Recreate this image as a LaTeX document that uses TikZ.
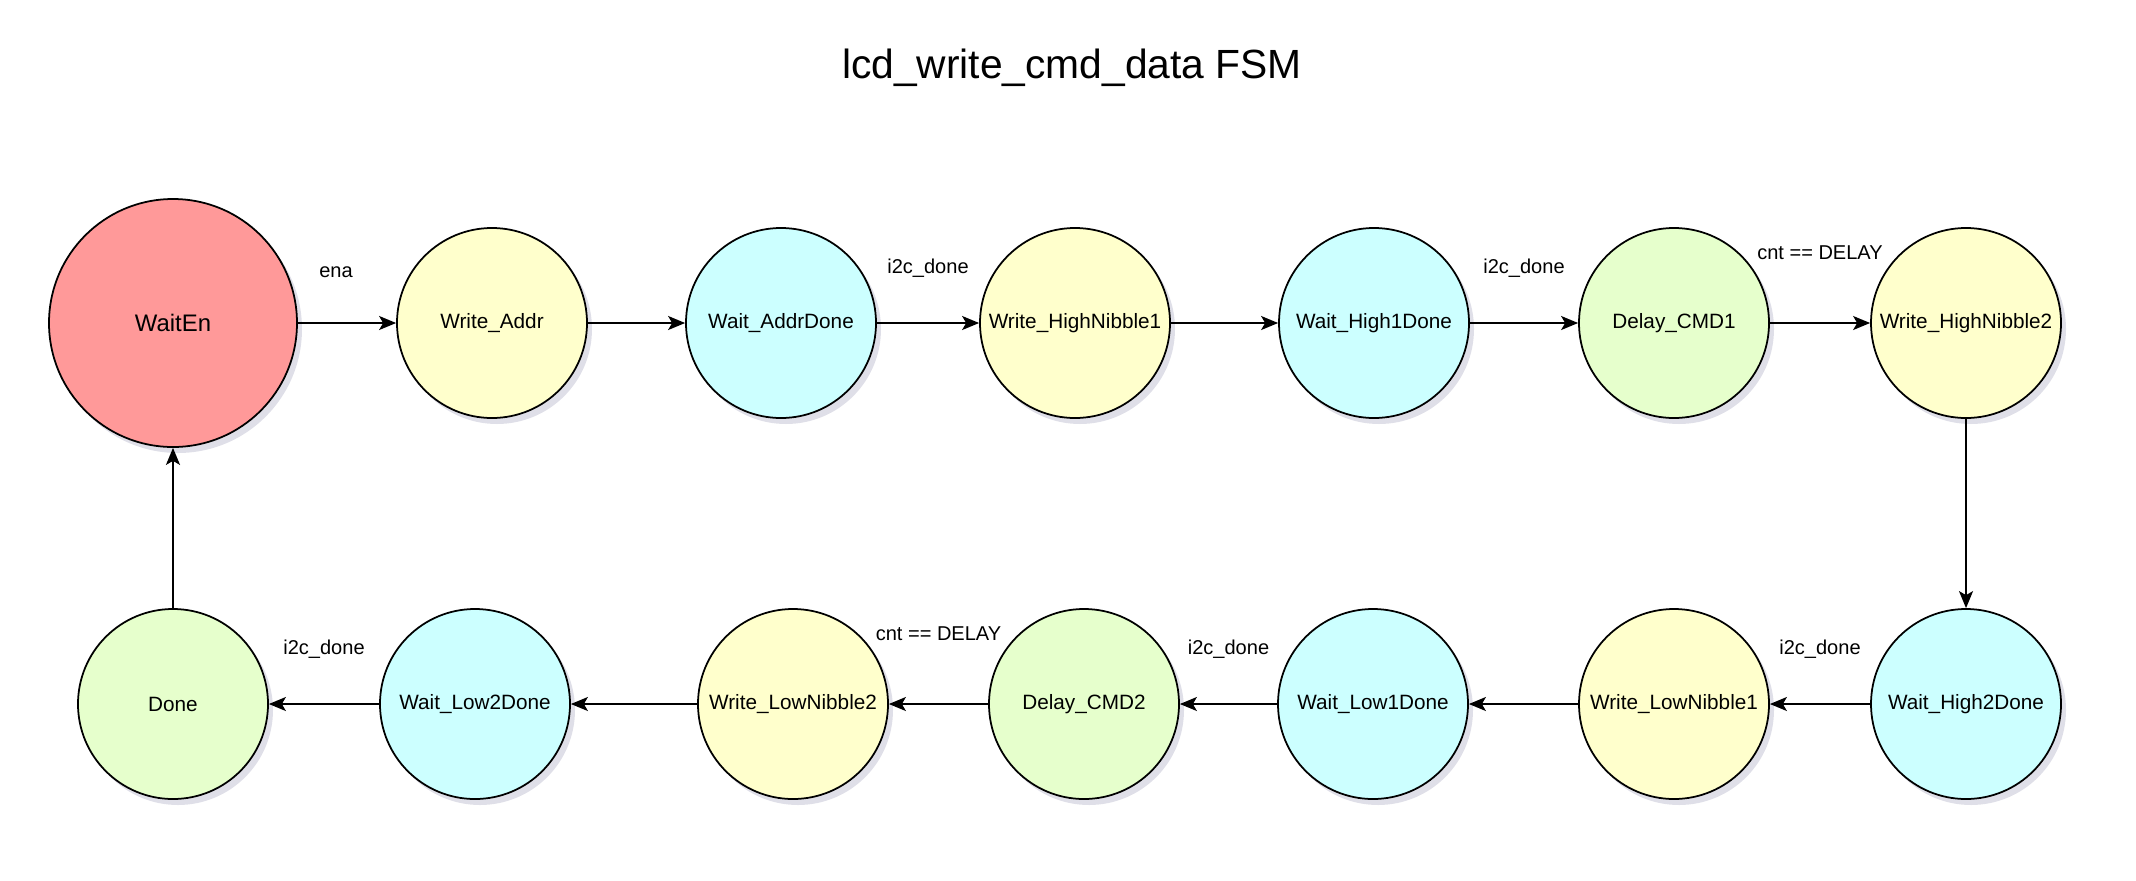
\documentclass[tikz,border=0pt]{standalone}
\usepackage{fontspec}
\setmainfont{Liberation Sans}
\usetikzlibrary{arrows.meta, positioning, shadows}
\definecolor{idleFill}{RGB}{255,153,153}
\definecolor{writeFill}{RGB}{255,255,204}
\definecolor{waitFill}{RGB}{204,255,255}
\definecolor{delayFill}{RGB}{230,255,204}
\definecolor{shadeTone}{RGB}{110,110,150}

\begin{document}
\begin{tikzpicture}[
  font=\fontsize{5.9}{7}\selectfont,
  state/.style={circle, draw=black, line width=0.5pt, minimum size=1.9cm, inner sep=0pt, align=center,
    drop shadow={shadow xshift=0.5mm, shadow yshift=-0.6mm, opacity=0.22, fill=shadeTone}},
  idle/.style={state, fill=idleFill, minimum size=2.48cm, font=\fontsize{6.8}{8}\selectfont},
  wr/.style={state, fill=writeFill},
  wt/.style={state, fill=waitFill},
  dly/.style={state, fill=delayFill},
  arr/.style={-{Stealth[length=1.7mm, width=1.4mm, inset=0.4mm]}, line width=0.5pt},
  lbl/.style={font=\fontsize{5.7}{7}\selectfont, inner sep=1pt, above=4.1mm},
  lblhi/.style={lbl, above=5.9mm}
]
\useasboundingbox (0,0) rectangle (21.36,-8.80);

% Title
\node[font=\fontsize{11.6}{13}\selectfont] (title) at (10.72,-0.68) {lcd\_write\_cmd\_data FSM};

% Row 1: enable, address, high nibbles
\node[idle] (waitEn)       at (1.73,-3.23)  {WaitEn};
\node[wr]   (writeAddr)    at (4.92,-3.23)  {Write\_Addr};
\node[wt]   (waitAddrDone) at (7.81,-3.23)  {Wait\_AddrDone};
\node[wr]   (writeHigh1)   at (10.75,-3.23) {Write\_HighNibble1};
\node[wt]   (waitHigh1)    at (13.74,-3.23) {Wait\_High1Done};
\node[dly]  (delayCmd1)    at (16.74,-3.23) {Delay\_CMD1};
\node[wr]   (writeHigh2)   at (19.66,-3.23) {Write\_HighNibble2};

\draw[arr] (waitEn) -- node[lbl, xshift=-1.1mm]{ena} (writeAddr);
\draw[arr] (writeAddr) -- (waitAddrDone);
\draw[arr] (waitAddrDone) -- node[lbl]{i2c\_done} (writeHigh1);
\draw[arr] (writeHigh1) -- (waitHigh1);
\draw[arr] (waitHigh1) -- node[lbl]{i2c\_done} (delayCmd1);
\draw[arr] (delayCmd1) -- node[lblhi]{cnt == DELAY} (writeHigh2);

% Row 2: low nibbles, back to idle
\node[wt]   (waitHigh2)    at (19.66,-7.04) {Wait\_High2Done};
\node[wr]   (writeLow1)    at (16.74,-7.04) {Write\_LowNibble1};
\node[wt]   (waitLow1)     at (13.73,-7.04) {Wait\_Low1Done};
\node[dly]  (delayCmd2)    at (10.84,-7.04) {Delay\_CMD2};
\node[wr]   (writeLow2)    at (7.93,-7.04)  {Write\_LowNibble2};
\node[wt]   (waitLow2)     at (4.75,-7.04)  {Wait\_Low2Done};
\node[dly]  (done)         at (1.73,-7.04)  {Done};

\draw[arr] (writeHigh2) -- (waitHigh2);
\draw[arr] (waitHigh2) -- node[lbl]{i2c\_done} (writeLow1);
\draw[arr] (writeLow1) -- (waitLow1);
\draw[arr] (waitLow1) -- node[lbl]{i2c\_done} (delayCmd2);
\draw[arr] (delayCmd2) -- node[lblhi]{cnt == DELAY} (writeLow2);
\draw[arr] (writeLow2) -- (waitLow2);
\draw[arr] (waitLow2) -- node[lbl]{i2c\_done} (done);
\draw[arr] (done) -- (waitEn);

\end{tikzpicture}
\end{document}
